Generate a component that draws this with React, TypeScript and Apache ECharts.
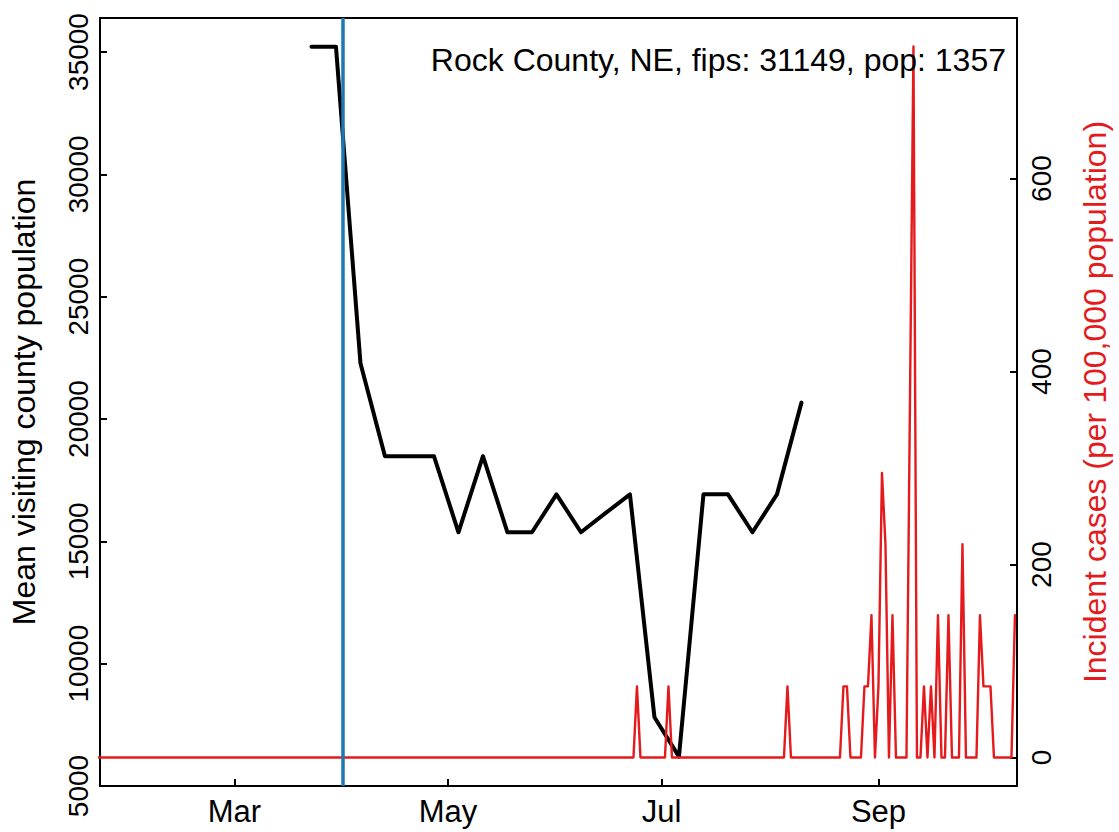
import React, { useEffect, useRef } from "react";
import * as echarts from "echarts";

// Weekly mean visiting county population (black line, left axis)
const visitDates = [
  "2020-03-23", "2020-03-30", "2020-04-06", "2020-04-13", "2020-04-20", "2020-04-27",
  "2020-05-04", "2020-05-11", "2020-05-18", "2020-05-25", "2020-06-01", "2020-06-08",
  "2020-06-15", "2020-06-22", "2020-06-29", "2020-07-06", "2020-07-13", "2020-07-20",
  "2020-07-27", "2020-08-03", "2020-08-10",
];
const visitValues = [
  35220, 35220, 22280, 18480, 18480, 18480,
  15370, 18480, 15370, 15370, 16920, 15370,
  16150, 16920, 7810, 6200, 16920, 16920,
  15370, 16920, 20670,
];

// Daily incident cases per 100,000 (red line, right axis); points where the line bends
const caseDates = [
  "2020-01-22", "2020-06-23", "2020-06-24", "2020-06-25", "2020-07-02", "2020-07-03",
  "2020-07-04", "2020-08-05", "2020-08-06", "2020-08-07", "2020-08-21", "2020-08-22",
  "2020-08-23", "2020-08-24", "2020-08-27", "2020-08-28", "2020-08-29", "2020-08-30",
  "2020-08-31", "2020-09-01", "2020-09-02", "2020-09-03", "2020-09-04", "2020-09-05",
  "2020-09-06", "2020-09-09", "2020-09-10", "2020-09-11", "2020-09-12", "2020-09-13",
  "2020-09-14", "2020-09-15", "2020-09-16", "2020-09-17", "2020-09-18", "2020-09-19",
  "2020-09-20", "2020-09-21", "2020-09-22", "2020-09-24", "2020-09-25", "2020-09-26",
  "2020-09-29", "2020-09-30", "2020-10-01", "2020-10-03", "2020-10-04", "2020-10-09",
  "2020-10-10",
];
const caseValues = [
  0, 0, 73.7, 0, 0, 73.7,
  0, 0, 73.7, 0, 0, 73.7,
  73.7, 0, 0, 73.7, 73.7, 147.4,
  0, 73.7, 294.8, 221.1, 0, 147.4,
  0, 0, 368.5, 736.9, 0, 0,
  73.7, 0, 73.7, 0, 147.4, 0,
  0, 147.4, 0, 0, 221.1, 0,
  0, 147.4, 73.7, 73.7, 0, 0,
  147.4,
];

const monthTickDates = ["2020-03-01", "2020-05-01", "2020-07-01", "2020-09-01"];
const monthTickLabels = ["Mar", "May", "Jul", "Sep"];
const leftTicks = [5000, 10000, 15000, 20000, 25000, 30000, 35000];
const rightTicks = [0, 200, 400, 600];
const interventionDate = "2020-04-01";
const annotationText = "Rock County, NE, fips: 31149, pop: 1357";
const leftAxisTitle = "Mean visiting county population";
const rightAxisTitle = "Incident cases (per 100,000 population)";

const FONT = "'Liberation Sans', Arial, Helvetica, sans-serif";

function toTime(s: string): number {
  const [y, m, d] = s.split("-").map(Number);
  return new Date(y, m - 1, d).getTime();
}

export default function App() {
  const ref = useRef<HTMLDivElement>(null);

  useEffect(() => {
    document.body.style.margin = "0";
    document.body.style.overflow = "hidden";
    if (!ref.current) return;
    const chart = echarts.init(ref.current, null, { renderer: "svg" });
    const tickTimes = monthTickDates.map(toTime);
    const xMin = new Date(2020, 0, 22, 14).getTime();
    const xMax = new Date(2020, 9, 10, 14).getTime();

    chart.setOption({
      animation: false,
      backgroundColor: "#ffffff",
      grid: {
        left: 100,
        right: 99,
        top: 18,
        bottom: 46,
        show: true,
        borderColor: "#000",
        borderWidth: 2,
        backgroundColor: "transparent",
      },
      xAxis: {
        type: "value",
        min: xMin,
        max: xMax,
        axisLine: { show: true, onZero: false, lineStyle: { color: "#000", width: 2 } },
        axisTick: {
          show: true,
          inside: true,
          length: 7,
          customValues: tickTimes,
          lineStyle: { color: "#000", width: 2 },
        },
        axisLabel: {
          customValues: tickTimes,
          margin: 10,
          fontSize: 31,
          color: "#000",
          fontFamily: FONT,
          formatter: (v: number) => {
            const i = tickTimes.findIndex((t) => Math.abs(t - v) < 43200000);
            return i >= 0 ? monthTickLabels[i] : "";
          },
        },
        splitLine: { show: false },
      },
      yAxis: [
        {
          type: "value",
          position: "left",
          min: 5000,
          max: 36390,
          name: leftAxisTitle,
          nameLocation: "middle",
          nameRotate: 90,
          nameGap: 60,
          nameTextStyle: { fontSize: 32, color: "#000", fontFamily: FONT },
          axisLine: { show: true, onZero: false, lineStyle: { color: "#000", width: 2 } },
          axisTick: {
            show: true,
            inside: true,
            length: 7,
            customValues: leftTicks,
            lineStyle: { color: "#000", width: 2 },
          },
          axisLabel: {
            customValues: leftTicks,
            rotate: 90,
            margin: 8,
            fontSize: 28,
            color: "#000",
            fontFamily: FONT,
            formatter: (v: number) => String(v),
          },
          splitLine: { show: false },
        },
        {
          type: "value",
          position: "right",
          min: -29.5,
          max: 766.4,
          name: rightAxisTitle,
          nameLocation: "middle",
          nameRotate: 90,
          nameGap: 62,
          nameTextStyle: { fontSize: 32, color: "#e41a1c", fontFamily: FONT },
          axisLine: { show: true, onZero: false, lineStyle: { color: "#000", width: 2 } },
          axisTick: {
            show: true,
            inside: true,
            length: 7,
            customValues: rightTicks,
            lineStyle: { color: "#000", width: 2 },
          },
          axisLabel: {
            customValues: rightTicks,
            rotate: 90,
            margin: 10,
            fontSize: 28,
            color: "#000",
            fontFamily: FONT,
            formatter: (v: number) => String(v),
          },
          splitLine: { show: false },
        },
      ],
      series: [
        {
          name: "visitors",
          type: "line",
          yAxisIndex: 0,
          data: visitDates.map((d, i) => [toTime(d), visitValues[i]]),
          showSymbol: false,
          symbol: "none",
          lineStyle: { color: "#000", width: 4, cap: "round", join: "round" },
          z: 2,
        },
        {
          name: "cases",
          type: "line",
          yAxisIndex: 1,
          data: caseDates.map((d, i) => [toTime(d), caseValues[i]]),
          showSymbol: false,
          symbol: "none",
          clip: true,
          lineStyle: { color: "#e41a1c", width: 2.4, cap: "round", join: "round" },
          z: 3,
        },
        {
          name: "intervention",
          type: "line",
          yAxisIndex: 0,
          data: [],
          z: 4,
          markLine: {
            silent: true,
            symbol: "none",
            label: { show: false },
            lineStyle: { color: "#1f78b4", width: 3.5, type: "solid" },
            data: [{ xAxis: toTime(interventionDate) }],
          },
        },
      ],
      graphic: [
        {
          type: "text",
          right: 1119 - 1006,
          top: 44,
          z: 10,
          style: {
            text: annotationText,
            fontSize: 32,
            fontFamily: FONT,
            fill: "#000",
          },
        },
      ],
    });

    return () => chart.dispose();
  }, []);

  return (
    <div
      ref={ref}
      style={{ position: "fixed", left: 0, top: 0, width: 1119, height: 832, background: "#fff" }}
    />
  );
}
